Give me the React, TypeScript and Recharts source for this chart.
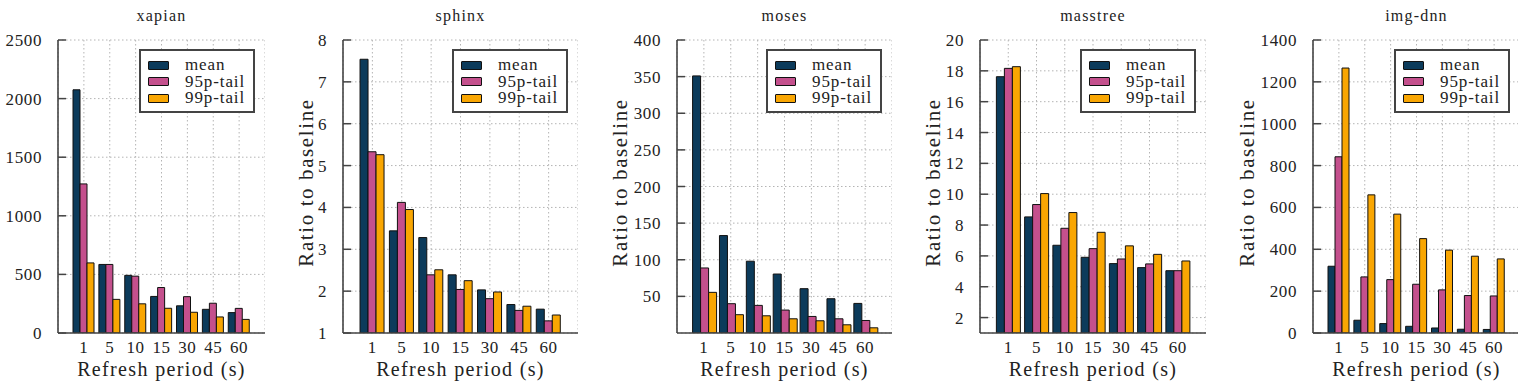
import { Bar, BarChart, CartesianGrid, Legend, XAxis, YAxis } from "recharts";

// refresh periods (s) on the x axis, shared by every panel
const periods = ["1", "5", "10", "15", "30", "45", "60"];

const seriesKeys = ["mean", "p95", "p99"];
const seriesNames = ["mean", "95p-tail", "99p-tail"];
const seriesColors = ["#0c3b5b", "#c4508d", "#f9a602"];

const xapianMean = [2075, 585, 492, 312, 232, 202, 174];
const xapianP95 = [1272, 585, 485, 388, 310, 254, 210];
const xapianP99 = [598, 287, 249, 211, 177, 137, 116];
const xapianTicks = [0, 500, 1000, 1500, 2000, 2500];

const sphinxMean = [7.54, 3.44, 3.28, 2.39, 2.03, 1.68, 1.57];
const sphinxP95 = [5.33, 4.12, 2.39, 2.04, 1.82, 1.54, 1.29];
const sphinxP99 = [5.26, 3.95, 2.51, 2.25, 1.98, 1.64, 1.43];
const sphinxTicks = [1, 2, 3, 4, 5, 6, 7, 8];

const mosesMean = [351, 133, 98, 80.5, 60.5, 46.8, 40.4];
const mosesP95 = [88.8, 40, 37.7, 31.3, 22.6, 19.4, 17.1];
const mosesP99 = [55.5, 25, 23.5, 19.4, 16.7, 11.2, 7.1];
const mosesTicks = [50, 100, 150, 200, 250, 300, 350, 400];

const masstreeMean = [17.62, 8.53, 6.69, 5.91, 5.5, 5.24, 5.04];
const masstreeP95 = [18.16, 9.33, 7.79, 6.47, 5.8, 5.48, 5.04];
const masstreeP99 = [18.27, 10.04, 8.81, 7.53, 6.65, 6.1, 5.67];
const masstreeTicks = [2, 4, 6, 8, 10, 12, 14, 16, 18, 20];

const imgDnnMean = [319, 61, 45, 32, 24, 18, 17];
const imgDnnP95 = [842, 268, 255, 233, 206, 179, 177];
const imgDnnP99 = [1266, 660, 568, 451, 396, 367, 354];
const imgDnnTicks = [0, 200, 400, 600, 800, 1000, 1200, 1400];

type Panel = {
  title: string;
  series: number[][];
  domain: [number, number];
  ticks: number[];
  yLabel: string | null;
  // plot box edges and the centre of the rotated y label, in page px
  left: number;
  right: number;
  labelX: number;
};

const panels: Panel[] = [
  {
    title: "xapian",
    series: [xapianMean, xapianP95, xapianP99],
    domain: [0, 2500],
    ticks: xapianTicks,
    yLabel: null,
    left: 58,
    right: 265,
    labelX: 29,
  },
  {
    title: "sphinx",
    series: [sphinxMean, sphinxP95, sphinxP99],
    domain: [1, 8],
    ticks: sphinxTicks,
    yLabel: "Ratio to baseline",
    left: 343,
    right: 578,
    labelX: 306,
  },
  {
    title: "moses",
    series: [mosesMean, mosesP95, mosesP99],
    domain: [0, 400],
    ticks: mosesTicks,
    yLabel: "Ratio to baseline",
    left: 677,
    right: 892,
    labelX: 620,
  },
  {
    title: "masstree",
    series: [masstreeMean, masstreeP95, masstreeP99],
    domain: [1, 20],
    ticks: masstreeTicks,
    yLabel: "Ratio to baseline",
    left: 980,
    right: 1206,
    labelX: 933,
  },
  {
    title: "img-dnn",
    series: [imgDnnMean, imgDnnP95, imgDnnP99],
    domain: [0, 1400],
    ticks: imgDnnTicks,
    yLabel: "Ratio to baseline",
    left: 1313,
    right: 1520,
    labelX: 1247,
  },
];

const AXIS = "#444";
const TEXT = "#222";
const FONT = '"Liberation Serif", "Times New Roman", Tinos, "DejaVu Serif", serif';

function LegendBox() {
  return (
    <div
      style={{
        boxSizing: "border-box",
        width: 116,
        height: 64,
        border: `2px solid ${AXIS}`,
        background: "#fff",
        paddingTop: 6,
        paddingLeft: 7,
        fontFamily: FONT,
      }}
    >
      {seriesNames.map((name, i) => (
        <div key={name} style={{ display: "flex", alignItems: "center", height: 16.5 }}>
          <span
            style={{
              boxSizing: "border-box",
              width: 21,
              height: 9,
              borderRadius: 1,
              border: "1px solid #111",
              background: seriesColors[i],
            }}
          />
          <span
            style={{
              marginLeft: 16,
              fontSize: 17,
              lineHeight: "16px",
              color: TEXT,
              letterSpacing: "0.9px",
            }}
          >
            {name}
          </span>
        </div>
      ))}
    </div>
  );
}

function PanelChart({ panel }: { panel: Panel }) {
  const rows = periods.map((period, i) => ({
    period,
    mean: panel.series[0][i],
    p95: panel.series[1][i],
    p99: panel.series[2][i],
  }));
  const yw = 2 * (panel.left - panel.labelX);
  const plotW = panel.right - panel.left;
  const half = plotW / 16;
  const chartLeft = panel.left - yw;

  return (
    <div style={{ position: "absolute", left: chartLeft, top: 0, fontFamily: FONT }}>
      <BarChart
        width={yw + plotW}
        height={383}
        data={rows}
        margin={{ top: 30, right: 0, bottom: 0, left: 0 }}
        barCategoryGap="8%"
        barGap={0}
        style={{ fontFamily: FONT }}
      >
        <CartesianGrid stroke="#b4b4b4" strokeDasharray="1.5 2.5" />
        <XAxis
          xAxisId="top"
          orientation="top"
          dataKey="period"
          height={10}
          interval={0}
          padding={{ left: half, right: half }}
          axisLine={false}
          tick={false}
          tickSize={-8}
          tickLine={{ stroke: AXIS, strokeWidth: 1.5 }}
          label={{
            value: panel.title,
            position: "top",
            offset: 9,
            fontSize: 16,
            fill: TEXT,
            fontFamily: FONT,
            style: { letterSpacing: "1.2px" },
          }}
        />
        <XAxis
          dataKey="period"
          height={50}
          interval={0}
          padding={{ left: half, right: half }}
          axisLine={{ stroke: AXIS, strokeWidth: 1.6 }}
          tickLine={false}
          tickSize={4}
          tickMargin={4}
          tick={{ fill: TEXT, fontSize: 17, fontFamily: FONT }}
          label={{
            value: "Refresh period (s)",
            position: "insideBottom",
            offset: 7,
            fontSize: 20,
            fill: TEXT,
            fontFamily: FONT,
            style: { letterSpacing: "1.35px" },
          }}
        />
        <YAxis
          type="number"
          width={yw}
          domain={panel.domain}
          ticks={panel.ticks}
          interval={0}
          allowDataOverflow
          axisLine={{ stroke: AXIS, strokeWidth: 1.6 }}
          tickLine={{ stroke: AXIS, strokeWidth: 1.5 }}
          tickSize={-8}
          tickMargin={24}
          tick={{ fill: TEXT, fontSize: 17, fontFamily: FONT }}
          label={
            panel.yLabel
              ? {
                  value: panel.yLabel,
                  angle: -90,
                  position: "center",
                  dy: -4,
                  fontSize: 21,
                  fill: TEXT,
                  fontFamily: FONT,
                  style: { letterSpacing: "1.6px" },
                }
              : undefined
          }
        />
        <Legend
          layout="horizontal"
          verticalAlign="middle"
          align="center"
          content={() => <LegendBox />}
          wrapperStyle={{
            left: panel.right - 126 - chartLeft,
            top: 49,
            width: 116,
            height: 64,
          }}
        />
        {seriesKeys.map((key, i) => (
          <Bar
            key={key}
            dataKey={key}
            name={seriesNames[i]}
            fill={seriesColors[i]}
            stroke="#111"
            strokeWidth={1}
            isAnimationActive={false}
          />
        ))}
      </BarChart>
    </div>
  );
}

export default function App() {
  return (
    <div
      style={{
        position: "absolute",
        left: 0,
        top: 0,
        width: 1518,
        height: 383,
        overflow: "hidden",
        background: "#fff",
        fontFamily: FONT,
        letterSpacing: "0.6px",
      }}
    >
      {panels.map((panel) => (
        <PanelChart key={panel.title} panel={panel} />
      ))}
    </div>
  );
}
